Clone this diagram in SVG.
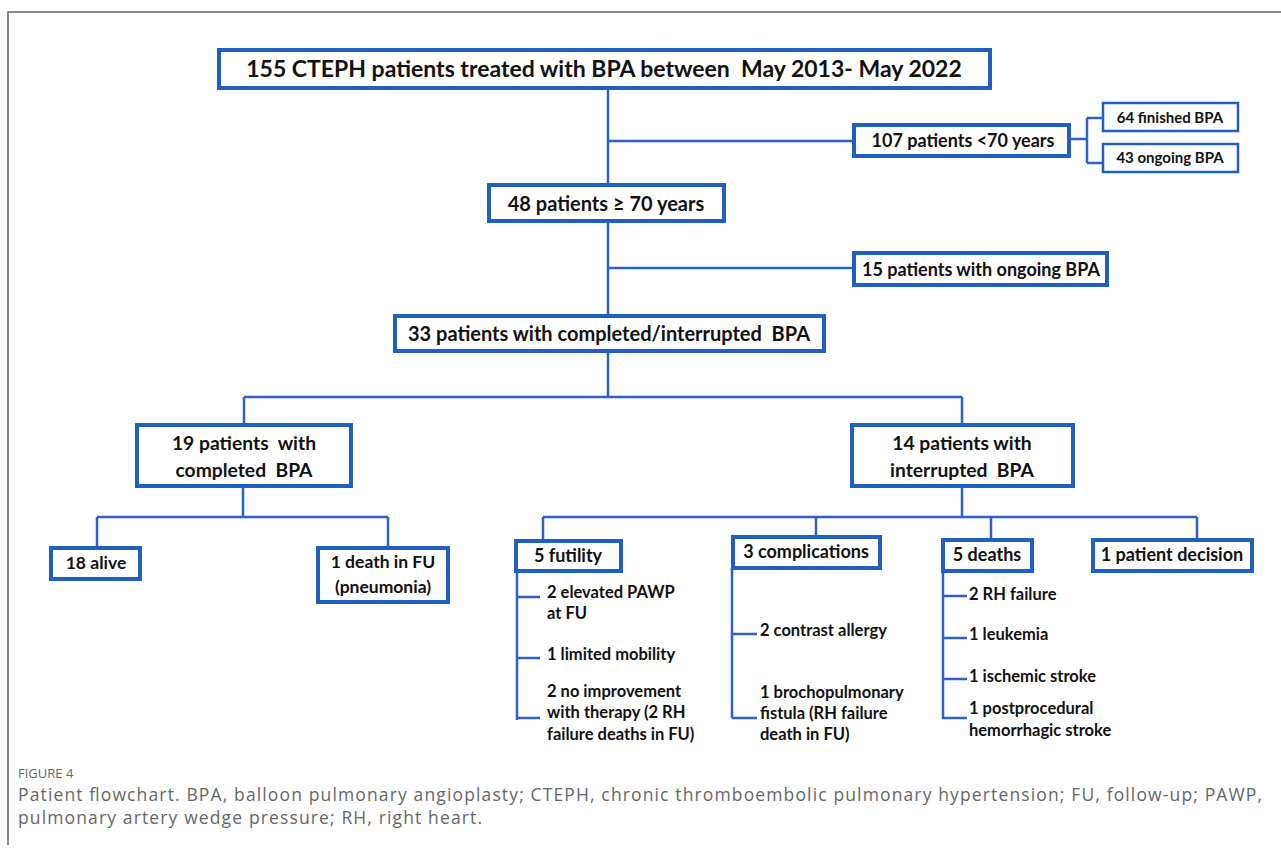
<svg xmlns="http://www.w3.org/2000/svg" width="1281" height="854" viewBox="0 0 1281 854">
<style>
.bx{fill:#fff;stroke:#1f5fc4;stroke-width:4}
.bt{fill:#fff;stroke:#1f5fc4;stroke-width:2.5}
.ln{fill:none;stroke:#2c62c6;stroke-width:2.5}
.t{font-family:Lato,"Open Sans","Liberation Sans",sans-serif;font-weight:700;fill:#111;white-space:pre;text-anchor:middle}
.s{font-family:Lato,"Open Sans","Liberation Sans",sans-serif;font-weight:700;fill:#111;font-size:16.5px}
.cap{font-family:"Open Sans","Liberation Sans",sans-serif;fill:#666}
</style>
<rect width="1281" height="854" fill="#fff"/>
<path d="M8,845 V12 H1281" fill="none" stroke="#666" stroke-width="1.5"/>
<g id="connectors">
<path class="ln" d="M608,88 V185 M608,141 H854 M1071,139 H1087 M1087,118 V163 M1087,118 H1102 M1087,163 H1102"/>
<path class="ln" d="M608,221 V316 M608,268 H854"/>
<path class="ln" d="M608,351 V397 M244,397 H962 M244,397 V425 M962,397 V425"/>
<path class="ln" d="M243,486 V517 M97,517 H388 M97,517 V548 M388,517 V548"/>
<path class="ln" d="M962,486 V517 M543,517 H1197 M543,517 V541 M816,517 V537 M991,517 V540 M1197,517 V540"/>
<path class="ln" d="M517,571 V720 M517,597 H540 M517,658 H540 M517,718 H540"/>
<path class="ln" d="M732,568 V718 M732,634 H757 M732,718 H757"/>
<path class="ln" d="M943,571 V719 M943,596 H967 M943,638 H967 M943,679 H967 M943,718 H967"/>
</g>
<g id="n1"><rect class="bx" x="219" y="50" width="771" height="38"/><text class="t" x="604" y="77" font-size="23">155 CTEPH patients treated with BPA between  May 2013- May 2022</text></g>
<g id="n2"><rect class="bx" x="854" y="125" width="215" height="31"/><text class="t" x="963" y="147" font-size="18">107 patients &lt;70 years</text></g>
<g id="n3"><rect class="bt" x="1103" y="103" width="135" height="28"/><text class="t" x="1170" y="123" font-size="15">64 finished BPA</text></g>
<g id="n4"><rect class="bt" x="1103" y="144" width="135" height="28"/><text class="t" x="1170" y="163" font-size="15">43 ongoing BPA</text></g>
<g id="n5"><rect class="bx" x="489" y="185" width="235" height="36"/><text class="t" x="606" y="211" font-size="20">48 patients ≥ 70 years</text></g>
<g id="n6"><rect class="bx" x="854" y="253" width="253" height="32"/><text class="t" x="981" y="276" font-size="18">15 patients with ongoing BPA</text></g>
<g id="n7"><rect class="bx" x="395" y="316" width="429" height="35"/><text class="t" x="609" y="341" font-size="20">33 patients with completed/interrupted  BPA</text></g>
<g id="n8"><rect class="bx" x="137" y="425" width="214" height="61"/><text class="t" x="244" y="450" font-size="19.3">19 patients  with</text><text class="t" x="244" y="477" font-size="19.3">completed  BPA</text></g>
<g id="n9"><rect class="bx" x="852" y="425" width="221" height="61"/><text class="t" x="962" y="450" font-size="19.3">14 patients with</text><text class="t" x="962" y="477" font-size="19.3">interrupted  BPA</text></g>
<g id="n10"><rect class="bx" x="51" y="548" width="89" height="31"/><text class="t" x="96" y="569" font-size="17.5">18 alive</text></g>
<g id="n11"><rect class="bx" x="318" y="548" width="130" height="54"/><text class="t" x="383" y="568" font-size="17.5">1 death in FU</text><text class="t" x="383" y="593" font-size="17.5">(pneumonia)</text></g>
<g id="n12"><rect class="bx" x="516" y="541" width="105" height="30"/><text class="t" x="568" y="562" font-size="18">5 futility</text></g>
<g id="n13"><rect class="bx" x="733" y="537" width="147" height="31"/><text class="t" x="806" y="558" font-size="18">3 complications</text></g>
<g id="n14"><rect class="bx" x="943" y="540" width="89" height="31"/><text class="t" x="987" y="561" font-size="18">5 deaths</text></g>
<g id="n15"><rect class="bx" x="1093" y="540" width="159" height="31"/><text class="t" x="1172" y="561" font-size="18">1 patient decision</text></g>
<g id="l1"><text class="s" x="547" y="598">2 elevated PAWP</text><text class="s" x="547" y="619">at FU</text><text class="s" x="547" y="660">1 limited mobility</text><text class="s" x="547" y="697">2 no improvement</text><text class="s" x="547" y="718">with therapy (2 RH</text><text class="s" x="547" y="740">failure deaths in FU)</text></g>
<g id="l2"><text class="s" x="760" y="636">2 contrast allergy</text><text class="s" x="760" y="698">1 brochopulmonary</text><text class="s" x="760" y="719">fistula (RH failure</text><text class="s" x="760" y="740">death in FU)</text></g>
<g id="l3"><text class="s" x="969" y="600">2 RH failure</text><text class="s" x="969" y="640">1 leukemia</text><text class="s" x="969" y="682">1 ischemic stroke</text><text class="s" x="969" y="714">1 postprocedural</text><text class="s" x="969" y="736">hemorrhagic stroke</text></g>
<g id="caption"><text class="cap" x="18" y="778" font-size="13" fill="#555">FIGURE 4</text><text class="cap" x="18" y="801" font-size="17.5" textLength="1244" lengthAdjust="spacing">Patient flowchart. BPA, balloon pulmonary angioplasty; CTEPH, chronic thromboembolic pulmonary hypertension; FU, follow-up; PAWP,</text><text class="cap" x="18" y="824" font-size="17.5" textLength="464" lengthAdjust="spacing">pulmonary artery wedge pressure; RH, right heart.</text></g>
</svg>
